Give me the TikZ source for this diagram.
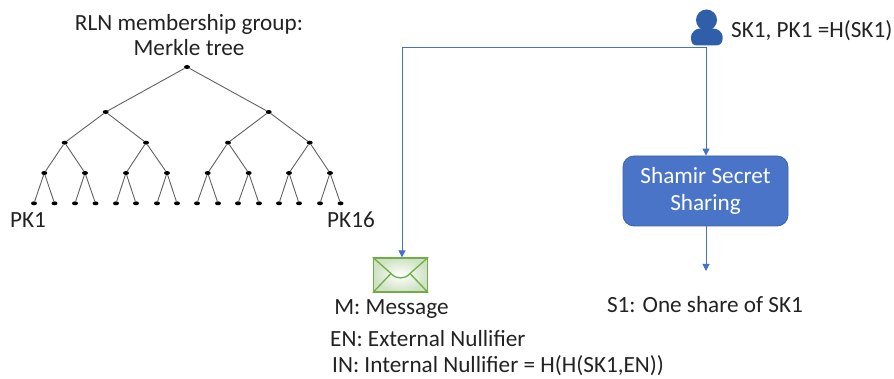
\documentclass[tikz,border=0pt]{standalone}
\usepackage{fontspec}
\setmainfont{Carlito}
\usetikzlibrary{arrows.meta,shapes.geometric}
\definecolor{flow}{HTML}{4472C4}
\definecolor{boxfill}{HTML}{4A74C8}
\definecolor{boxline}{HTML}{3A62A8}
\definecolor{envline}{HTML}{70AD47}
\definecolor{envfill}{HTML}{CFE2C4}
\definecolor{usericon}{HTML}{2F5FA8}
\definecolor{txt}{HTML}{222222}
\tikzset{
  treenode/.style={ellipse,fill=black,inner sep=0pt,minimum width=6pt,minimum height=4pt},
  treeedge/.style={draw=black!62,line width=0.9pt},
  flowline/.style={draw=flow,line width=1pt,-{Triangle[length=7pt,width=7pt]}},
  plainflow/.style={draw=flow,line width=1pt},
  lbl/.style={text=txt,font=\fontsize{23.2}{24.5}\selectfont,inner sep=0pt,align=center},
  sss/.style={rectangle,rounded corners=11pt,draw=boxline,fill=boxfill,line width=0.8pt,text=white,
    minimum width=165pt,minimum height=70pt,align=center,font=\fontsize{23.2}{27}\selectfont,inner sep=0pt},
  env/.style={rectangle,draw=envline,line width=1.3pt,inner color=white,outer color=envfill,minimum width=54pt,minimum height=34pt,inner sep=0pt},
}
\begin{document}
\begin{tikzpicture}[x=1pt,y=-1pt]
\useasboundingbox (0,0) rectangle (894,379);
% tree nodes
\node[treenode] (r) at (187,67) {};
\node[treenode] (a1) at (105.7,112) {};
\node[treenode] (a2) at (268.7,112) {};
\foreach \n/\x in {1/64.7,2/146,3/228,4/309.7}
  \node[treenode] (b\n) at (\x,142.7) {};
\foreach \n/\x in {1/44.3,2/85,3/126,4/167,5/207.7,6/248.7,7/289,8/330}
  \node[treenode] (c\n) at (\x,173) {};
\foreach \n/\x in {1/34,2/54.5,3/75,4/95.5,5/116,6/136,7/157,8/177,9/197,10/218,11/238,12/259,13/279,14/299,15/320,16/340.5}
  \node[treenode] (d\n) at (\x,203.3) {};
\foreach \p/\k in {r/a1,r/a2,a1/b1,a1/b2,a2/b3,a2/b4,b1/c1,b1/c2,b2/c3,b2/c4,b3/c5,b3/c6,b4/c7,b4/c8,
  c1/d1,c1/d2,c2/d3,c2/d4,c3/d5,c3/d6,c4/d7,c4/d8,c5/d9,c5/d10,c6/d11,c6/d12,c7/d13,c7/d14,c8/d15,c8/d16}
  \draw[treeedge] (\p) -- (\k);
% tree labels
\node[lbl] (title) at (189,35) {RLN membership group:\\Merkle tree};
\node[lbl] (pk1) at (28,220) {PK1};
\node[lbl] (pk16) at (351,220) {PK16};
% user
\node[circle,fill=usericon,minimum size=21pt,inner sep=0pt] (head) at (706.5,20) {};
\fill[usericon] (691,38) .. controls (691,31) and (697,28.5) .. (700,28.5) -- (713,28.5)
  .. controls (717,28.5) and (722.7,31) .. (722.7,38) .. controls (722.7,43) and (720,45.5) .. (716,45.5)
  -- (697,45.5) .. controls (693,45.5) and (691,43) .. (691,38) -- cycle;
\coordinate (user) at (706,47);
\coordinate (corner) at (402,48);
\node[lbl,anchor=west] (sk) at (731,31) {SK1, PK1 =H(SK1)};
% process
\node[sss] (shamir) at (705.5,191) {Shamir Secret\\Sharing};
\coordinate (s1end) at (706,271);
\node[lbl] (s1) at (705,305) {S1: One share of SK1};
% envelope
\node[env] (mail) at (400.5,275) {};
\draw[envline,line width=1.3pt,line join=round]
  (mail.north west) -- (391,273.5) .. controls (396,279.5) and (405,279.5) .. (410,273.5) -- (mail.north east);
\draw[envline,line width=1.3pt] (mail.south west) -- (391,273.5);
\draw[envline,line width=1.3pt] (mail.south east) -- (410,273.5);
\node[lbl] (m) at (391.5,309) {M: Message};
\node[lbl,anchor=west] (en) at (330,339) {EN: External Nullifier};
\node[lbl,anchor=west] (in) at (332,366) {IN: Internal Nullifier = H(H(SK1,EN))};
% connectors
\draw[plainflow] (user) |- (corner);
\draw[flowline] (corner) -- (corner |- mail.north);
\draw[flowline] (user) -- (user |- shamir.north);
\draw[flowline] (user |- shamir.south) -- (s1end);
\end{tikzpicture}
\end{document}
